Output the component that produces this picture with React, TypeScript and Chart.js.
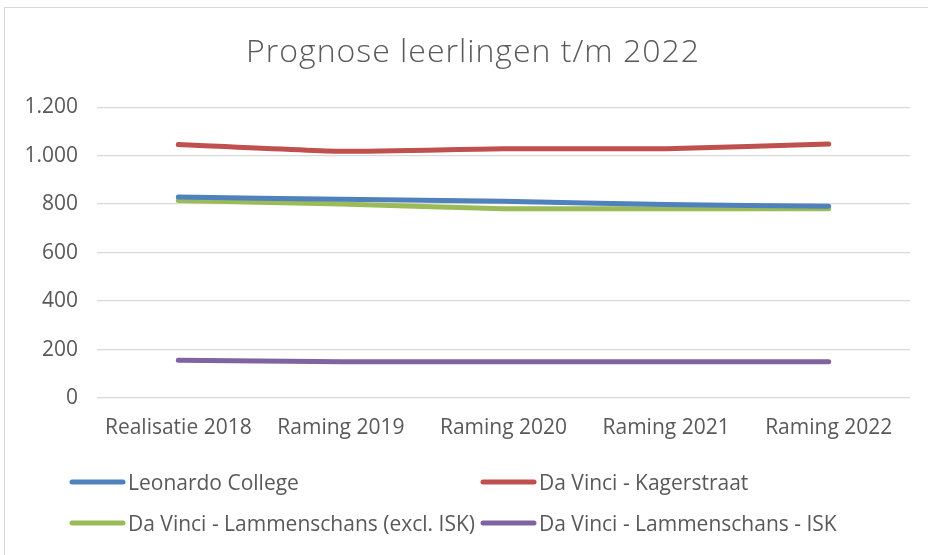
import React, { useEffect, useRef } from "react";
import { Chart, registerables } from "chart.js";

Chart.register(...registerables);

const categories = ["Realisatie 2018", "Raming 2019", "Raming 2020", "Raming 2021", "Raming 2022"];
const leonardoCollege = [829, 820, 812, 798, 791];
const kagerstraat = [1046, 1018, 1029, 1029, 1048];
const lammenschansExcl = [815, 801, 781, 781, 781];
const lammenschansIsk = [156, 150, 150, 150, 150];
const seriesNames = [
  "Leonardo College",
  "Da Vinci - Kagerstraat",
  "Da Vinci - Lammenschans (excl. ISK)",
  "Da Vinci - Lammenschans - ISK",
];
const seriesColors = ["#4f81bd", "#c0504d", "#9bbb59", "#8064a2"];
const chartTitle = "Prognose leerlingen t/m 2022";
const yMin = 0;
const yMax = 1200;
const yStep = 200;

const FONT = "'Open Sans', sans-serif";
const TEXT = "#595959";

const customText = {
  id: "customText",
  afterDraw(chart: any) {
    const ctx = chart.ctx;
    const area = chart.chartArea;
    ctx.save();
    // title
    ctx.font = `300 32px ${FONT}`;
    (ctx as any).letterSpacing = "1px";
    ctx.fillStyle = TEXT;
    ctx.textAlign = "center";
    ctx.textBaseline = "alphabetic";
    ctx.fillText(chartTitle, 473, area.top - 45);
    (ctx as any).letterSpacing = "0px";
    // legend in a 2-column grid
    const rows = [area.bottom + 92, area.bottom + 133];
    const cols = [69, 480];
    ctx.font = `21px ${FONT}`;
    ctx.textAlign = "left";
    chart.data.datasets.forEach((ds: any, i: number) => {
      const x = cols[i % 2];
      const y = rows[Math.floor(i / 2)];
      ctx.strokeStyle = ds.borderColor;
      ctx.lineWidth = 5;
      ctx.lineCap = "round";
      ctx.beginPath();
      ctx.moveTo(x + 3, y - 8);
      ctx.lineTo(x + 54, y - 8);
      ctx.stroke();
      ctx.fillStyle = TEXT;
      ctx.fillText(ds.label, x + 59, y);
    });
    ctx.restore();
  },
};

export default function App() {
  const ref = useRef<HTMLCanvasElement | null>(null);
  useEffect(() => {
    if (!ref.current) return;
    const values = [leonardoCollege, kagerstraat, lammenschansExcl, lammenschansIsk];
    const chart = new Chart(ref.current, {
      type: "line",
      data: {
        labels: categories,
        datasets: values.map((v, i) => ({
          label: seriesNames[i],
          data: v,
          borderColor: seriesColors[i],
          backgroundColor: seriesColors[i],
          borderWidth: 5,
          pointRadius: 0,
          tension: 0.15,
          borderCapStyle: "round",
          borderJoinStyle: "round",
          fill: false,
        })),
      },
      options: {
        responsive: false,
        animation: false,
        devicePixelRatio: 1,
        layout: { padding: { left: 20, right: 18, top: 0, bottom: 97 } },
        plugins: {
          legend: { display: false },
          tooltip: { enabled: false },
          title: {
            display: true,
            text: chartTitle,
            color: "rgba(0,0,0,0)",
            font: { family: FONT, size: 31, weight: "300" as any },
            padding: { top: 33, bottom: 37 },
          },
        },
        scales: {
          x: {
            offset: true,
            grid: { display: false, drawTicks: false },
            border: { display: false },
            ticks: {
              color: TEXT,
              font: { family: FONT, size: 21 },
              padding: 17,
              maxRotation: 0,
              autoSkip: false,
            },
            afterFit(scale: any) {
              scale.height = 60;
            },
          },
          y: {
            min: yMin,
            max: yMax,
            grid: { color: "#d9d9d9", lineWidth: 1.3, drawTicks: false },
            border: { display: false },
            ticks: {
              stepSize: yStep,
              color: TEXT,
              font: { family: FONT, size: 21 },
              padding: 19,
              callback: (v: any) => String(v).replace(/\B(?=(\d{3})+(?!\d))/g, "."),
            },
            afterFit(scale: any) {
              scale.width = 77;
            },
          },
        },
      },
      plugins: [customText],
    });
    return () => chart.destroy();
  }, []);

  return (
    <div
      style={{
        position: "fixed",
        left: 0,
        top: 0,
        width: 928,
        height: 555,
        overflow: "hidden",
        background: "#fff",
      }}
    >
      <div
        style={{
          position: "absolute",
          left: 4,
          top: 7,
          width: 950,
          height: 600,
          border: "1px solid #d9d9d9",
          boxSizing: "border-box",
        }}
      />
      <canvas
        ref={ref}
        width={928}
        height={555}
        style={{ position: "absolute", left: 0, top: 0, width: 928, height: 555 }}
      />
    </div>
  );
}
